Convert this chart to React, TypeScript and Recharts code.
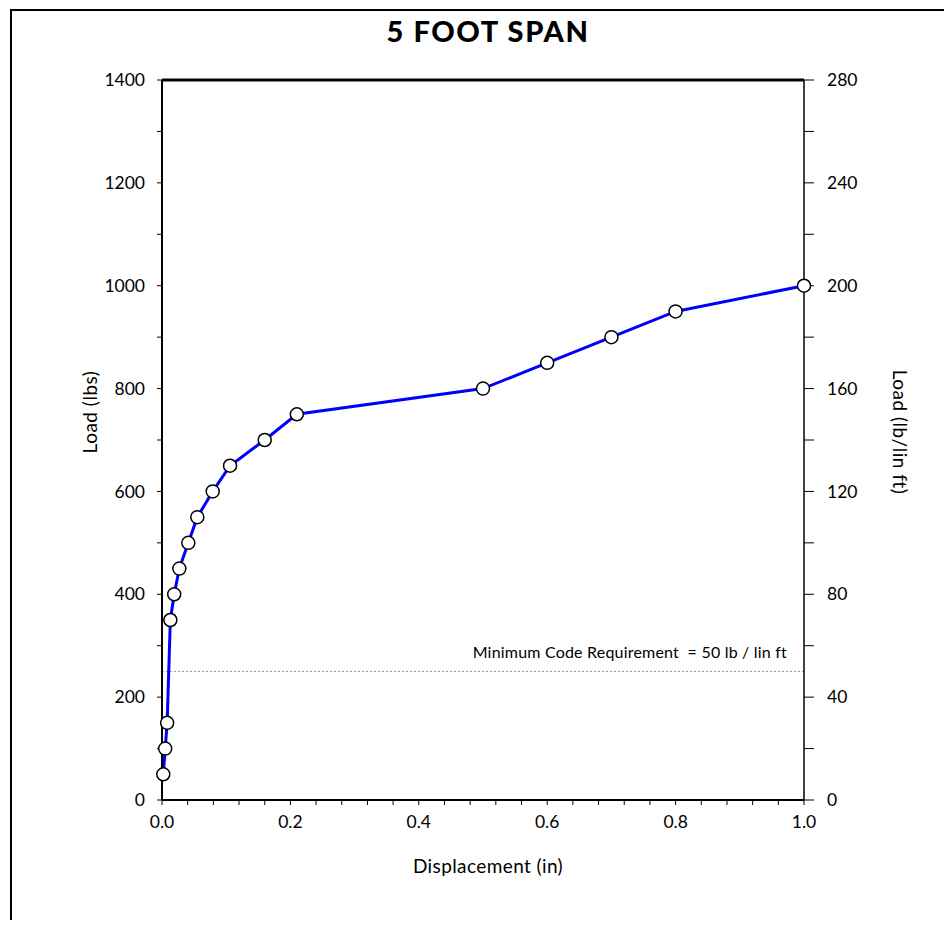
import { LineChart, XAxis, YAxis, Line, ReferenceLine } from "recharts";

const displacement = [0.002, 0.005, 0.008, 0.013, 0.019, 0.027, 0.041, 0.055, 0.079, 0.106, 0.16, 0.21, 0.5, 0.6, 0.7, 0.8, 1.0];
const load = [50, 100, 150, 350, 400, 450, 500, 550, 600, 650, 700, 750, 800, 850, 900, 950, 1000];

const xTicks = [0, 0.04, 0.08, 0.12, 0.16, 0.2, 0.24, 0.28, 0.32, 0.36, 0.4, 0.44, 0.48, 0.52, 0.56, 0.6, 0.64, 0.68, 0.72, 0.76, 0.8, 0.84, 0.88, 0.92, 0.96, 1.0];
const leftTicks = [0, 100, 200, 300, 400, 500, 600, 700, 800, 900, 1000, 1100, 1200, 1300, 1400];
const rightTicks = [0, 20, 40, 60, 80, 100, 120, 140, 160, 180, 200, 220, 240, 260, 280];
const codeMinimum = 50; // lb / lin ft

const data = displacement.map((d, i) => ({ disp: d, load: load[i] }));

const FONT = "Lato, 'DejaVu Sans', sans-serif";

const LeftLabel = (props: any) => {
    const vb = props.viewBox;
    const cx = vb.x + 7;
    const cy = vb.y + vb.height / 2 - 28;
    return (
        <text x={cx} y={cy} transform={`rotate(-90 ${cx} ${cy})`} textAnchor="middle" dominantBaseline="central" fontSize={19} letterSpacing={0.5} fill="#000" fontFamily={FONT}>
            Load (lbs)
        </text>
    );
};

const RightLabel = (props: any) => {
    const vb = props.viewBox;
    const cx = vb.x + 96;
    const cy = vb.y + vb.height / 2 - 8;
    return (
        <text x={cx} y={cy} transform={`rotate(90 ${cx} ${cy})`} textAnchor="middle" dominantBaseline="central" fontSize={19} letterSpacing={0.5} fill="#000" fontFamily={FONT}>
            Load (lb/lin ft)
        </text>
    );
};

const BottomLabel = (props: any) => {
    const vb = props.viewBox;
    return (
        <text x={vb.x + vb.width / 2 + 5} y={vb.y + 65} textAnchor="middle" dominantBaseline="central" fontSize={19} letterSpacing={0.4} fill="#000" fontFamily={FONT}>
            Displacement (in)
        </text>
    );
};

const CodeLabel = (props: any) => {
    const vb = props.viewBox;
    return (
        <text x={vb.x + vb.width - 17} y={vb.y - 13} textAnchor="end" fontSize={16} letterSpacing={0.2} fill="#000" fontFamily={FONT} style={{ whiteSpace: "pre" }}>
            {"Minimum Code Requirement  = 50 lb / lin ft"}
        </text>
    );
};

const tickStyle = { fontSize: 17.5, fill: "#000", fontFamily: FONT };

export default function App() {
    return (
        <div style={{ position: "relative", width: 944, height: 912 }}>
            <style>{`body { overflow: hidden; }`}</style>
            <div style={{ position: "absolute", left: 2, top: 1, width: 960, height: 940, borderLeft: "2px solid #000", borderTop: "2px solid #000" }} />
            <div style={{ position: "absolute", left: 480, top: 5, transform: "translateX(-50%)", whiteSpace: "nowrap", fontFamily: FONT, fontWeight: 900, fontSize: 29, letterSpacing: 1.6 }}>
                5 FOOT SPAN
            </div>
            <LineChart
                width={944}
                height={912}
                data={data}
                margin={{ top: 72, right: 48, left: 74, bottom: 60 }}
                style={{ position: "absolute", left: 0, top: 0 }}
            >
                <XAxis
                    dataKey="disp"
                    type="number"
                    domain={[0, 1]}
                    ticks={xTicks}
                    interval={0}
                    tickFormatter={(v: number) => (Math.round(v * 100) % 20 === 0 ? v.toFixed(1) : "")}
                    tick={tickStyle}
                    tickSize={5}
                    tickMargin={11}
                    height={60}
                    axisLine={{ stroke: "#000", strokeWidth: 2 }}
                    tickLine={{ stroke: "#000" }}
                    label={<BottomLabel />}
                />
                <YAxis
                    yAxisId="left"
                    type="number"
                    domain={[0, 1400]}
                    ticks={leftTicks}
                    interval={0}
                    tickFormatter={(v: number) => (v % 200 === 0 ? String(v) : "")}
                    tick={tickStyle}
                    tickSize={5}
                    tickMargin={12}
                    width={80}
                    axisLine={{ stroke: "#000", strokeWidth: 2 }}
                    tickLine={{ stroke: "#000" }}
                    label={<LeftLabel />}
                />
                <YAxis
                    yAxisId="right"
                    type="number"
                    orientation="right"
                    domain={[0, 280]}
                    allowDataOverflow
                    ticks={rightTicks}
                    interval={0}
                    tickFormatter={(v: number) => (v % 40 === 0 ? String(v) : "")}
                    tick={tickStyle}
                    tickSize={10}
                    tickMargin={13}
                    width={100}
                    axisLine={{ stroke: "#000", strokeWidth: 1.5 }}
                    tickLine={{ stroke: "#000" }}
                    label={<RightLabel />}
                />
                <ReferenceLine yAxisId="left" y={1400} stroke="#000" strokeWidth={3} />
                <ReferenceLine yAxisId="right" y={codeMinimum} stroke="#999" strokeDasharray="2 2" strokeWidth={1} label={<CodeLabel />} />
                <Line
                    yAxisId="left"
                    type="linear"
                    dataKey="load"
                    stroke="#0000ff"
                    strokeWidth={3}
                    dot={{ r: 6.5, fill: "#fff", stroke: "#000", strokeWidth: 1.5 }}
                    isAnimationActive={false}
                />
            </LineChart>
        </div>
    );
}
